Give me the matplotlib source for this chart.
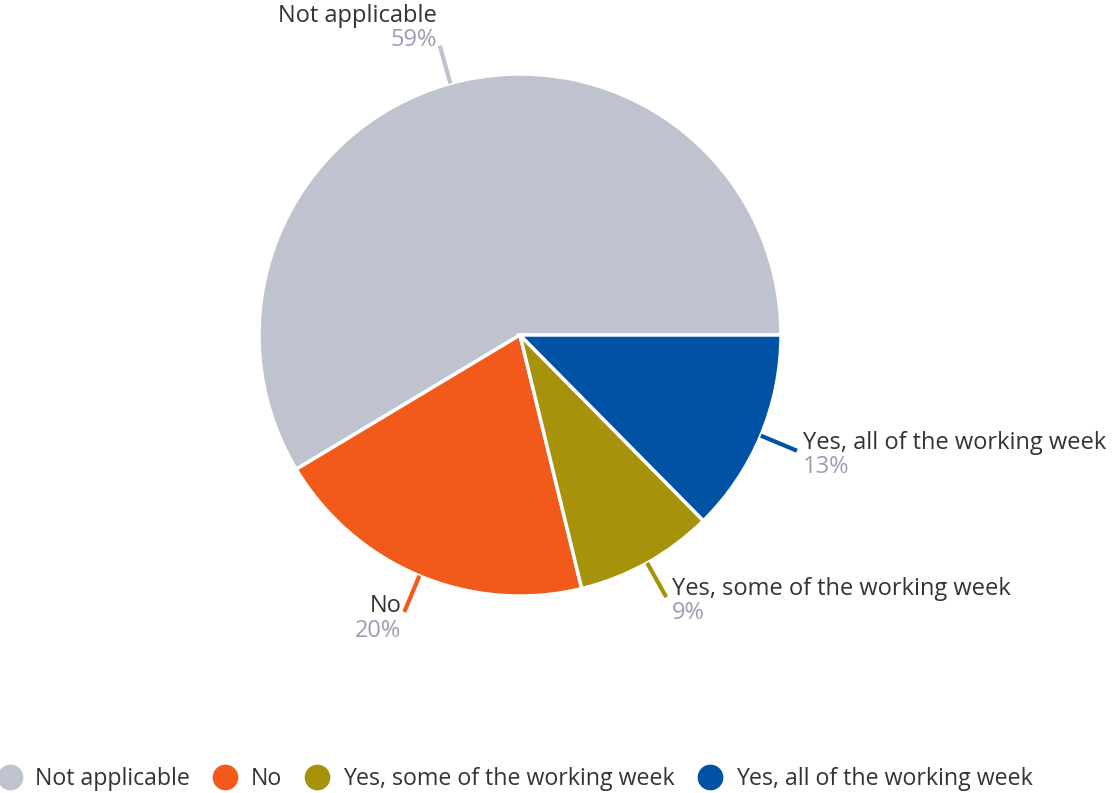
import numpy as np
import matplotlib
matplotlib.use("Agg")
import matplotlib.pyplot as plt
from matplotlib.lines import Line2D

categories = ["Not applicable", "No", "Yes, some of the working week", "Yes, all of the working week"]
values = [58.6, 20.2, 8.6, 12.6]
pct_labels = ["59%", "20%", "9%", "13%"]
colors = ["#bfc2cf", "#f15a1b", "#a6920b", "#0052a5"]

plt.rcParams['font.family'] = ['Open Sans', 'DejaVu Sans']
W, H = 1115, 793
fig = plt.figure(figsize=(W / 100, H / 100), dpi=100)
ax = fig.add_axes([0, 0, 1, 1])

cx, cy, R = 520, 793 - 335, 261
wedges, _ = ax.pie(values, colors=colors, startangle=0, counterclock=True,
                   radius=1.0, wedgeprops=dict(edgecolor="white", linewidth=2.5))
ax.set_aspect('auto')
ax.set_xlim(-cx / R, (W - cx) / R)
ax.set_ylim(-cy / R, (H - cy) / R)
ax.axis('off')

name_color = "#333333"
pct_color = "#9c9db5"
fs = 17
px = 1.0 / R
for w, name, pct, col in zip(wedges, categories, pct_labels, colors):
    mid = np.deg2rad((w.theta1 + w.theta2) / 2)
    c, s = np.cos(mid), np.sin(mid)
    r0, r1 = 1.0, 1.15
    ax.plot([r0 * c, r1 * c], [r0 * s, r1 * s], color=col, lw=3, solid_capstyle='butt')
    ex, ey = r1 * c, r1 * s
    if s > 0.9:
        ax.text(ex - 3 * px, ey + 0 * px, pct, ha='right', va='baseline', fontsize=fs, color=pct_color)
        ax.text(ex - 3 * px, ey + 24 * px, name, ha='right', va='baseline', fontsize=fs, color=name_color)
    elif c < 0:
        ax.text(ex - 3 * px, ey + 6 * px, name, ha='right', va='center', fontsize=fs, color=name_color)
        ax.text(ex - 3 * px, ey - 19 * px, pct, ha='right', va='center', fontsize=fs, color=pct_color)
    else:
        ax.text(ex + 6 * px, ey + 8 * px, name, ha='left', va='center', fontsize=fs, color=name_color)
        ax.text(ex + 6 * px, ey - 16 * px, pct, ha='left', va='center', fontsize=fs, color=pct_color)

lfs = 16.7
handles = [Line2D([0], [0], marker='o', color='none', markerfacecolor=col, markeredgecolor=col,
                  markersize=17.5) for col in colors]
fig.legend(handles, categories, loc='center', bbox_to_anchor=(0.462, 1 - 779 / H), ncol=4,
           frameon=False, fontsize=lfs, handletextpad=0.6, columnspacing=1.0,
           handlelength=1.02, labelcolor=name_color)

fig.savefig("out.png", dpi=100, facecolor="white")
